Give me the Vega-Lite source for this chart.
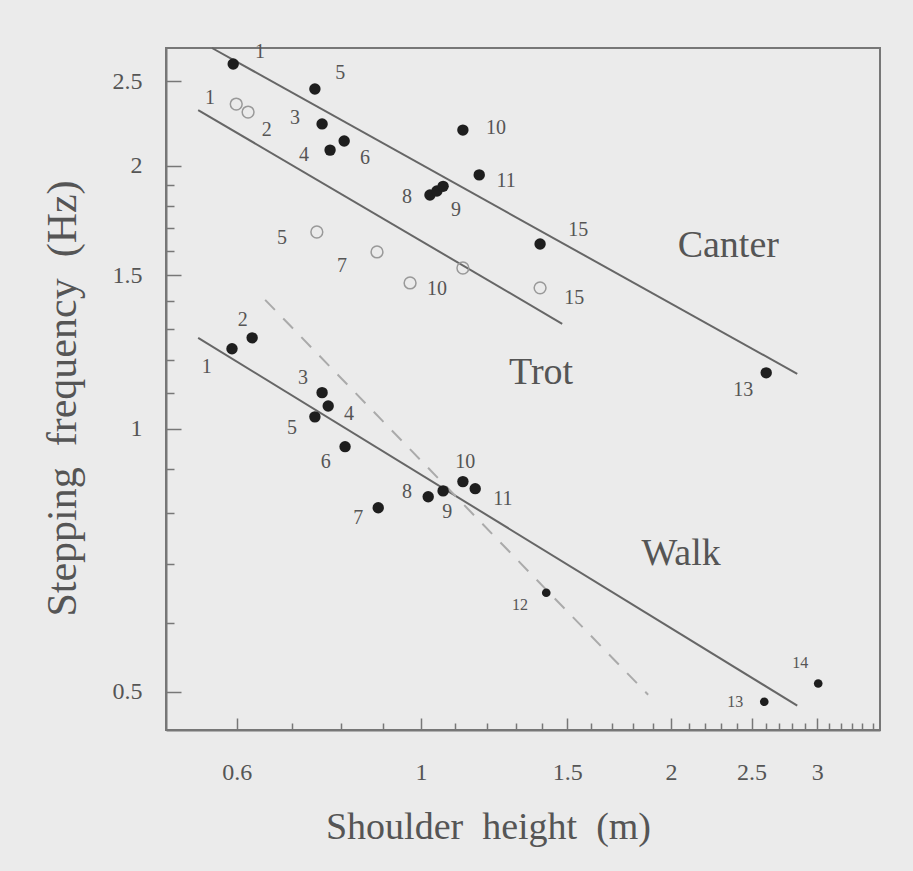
{
  "$schema": "https://vega.github.io/schema/vega-lite/v6.json",
  "autosize": "none",
  "padding": {"left": 166, "top": 48, "right": 33, "bottom": 141},
  "width": 714,
  "height": 682,
  "background": "#ebebeb",
  "config": {
    "view": {"stroke": "#777", "strokeWidth": 2},
    "axis": {
      "labelFont": "Liberation Serif",
      "titleFont": "Liberation Serif",
      "labelColor": "#555",
      "titleColor": "#555",
      "domainColor": "#777",
      "domainWidth": 2,
      "tickColor": "#777",
      "tickWidth": 1.5,
      "grid": false,
      "titleFontWeight": "normal"
    }
  },
  "datasets": {
    "points": [
      {"gait": "Canter", "n": 1, "x": 0.594, "y": 2.616},
      {"gait": "Canter", "n": 5, "x": 0.745, "y": 2.449},
      {"gait": "Canter", "n": 3, "x": 0.760, "y": 2.234},
      {"gait": "Canter", "n": 4, "x": 0.777, "y": 2.085},
      {"gait": "Canter", "n": 6, "x": 0.808, "y": 2.136},
      {"gait": "Canter", "n": 8, "x": 1.025, "y": 1.852},
      {"gait": "Canter", "n": 8, "x": 1.045, "y": 1.872},
      {"gait": "Canter", "n": 9, "x": 1.063, "y": 1.895},
      {"gait": "Canter", "n": 10, "x": 1.123, "y": 2.198},
      {"gait": "Canter", "n": 11, "x": 1.175, "y": 1.953},
      {"gait": "Canter", "n": 15, "x": 1.391, "y": 1.628},
      {"gait": "Canter", "n": 13, "x": 2.604, "y": 1.159},
      {"gait": "Trot", "n": 1, "x": 0.599, "y": 2.354},
      {"gait": "Trot", "n": 2, "x": 0.619, "y": 2.305},
      {"gait": "Trot", "n": 5, "x": 0.749, "y": 1.680},
      {"gait": "Trot", "n": 7, "x": 0.885, "y": 1.594},
      {"gait": "Trot", "n": 10, "x": 0.970, "y": 1.469},
      {"gait": "Trot", "n": 11, "x": 1.123, "y": 1.528},
      {"gait": "Trot", "n": 15, "x": 1.391, "y": 1.450},
      {"gait": "Walk", "n": 1, "x": 0.592, "y": 1.235},
      {"gait": "Walk", "n": 2, "x": 0.626, "y": 1.271},
      {"gait": "Walk", "n": 3, "x": 0.760, "y": 1.100},
      {"gait": "Walk", "n": 4, "x": 0.773, "y": 1.062},
      {"gait": "Walk", "n": 5, "x": 0.745, "y": 1.032},
      {"gait": "Walk", "n": 6, "x": 0.810, "y": 0.954},
      {"gait": "Walk", "n": 7, "x": 0.888, "y": 0.812},
      {"gait": "Walk", "n": 8, "x": 1.020, "y": 0.836},
      {"gait": "Walk", "n": 9, "x": 1.063, "y": 0.849},
      {"gait": "Walk", "n": 10, "x": 1.123, "y": 0.870},
      {"gait": "Walk", "n": 11, "x": 1.162, "y": 0.854},
      {"gait": "Walk", "n": 12, "x": 1.415, "y": 0.649},
      {"gait": "Walk", "n": 13, "x": 2.590, "y": 0.487},
      {"gait": "Walk", "n": 14, "x": 3.008, "y": 0.511}
    ],
    "numbers": [
      {"gait": "Canter", "n": 1, "x": 0.640, "y": 2.700},
      {"gait": "Canter", "n": 5, "x": 0.799, "y": 2.555},
      {"gait": "Canter", "n": 3, "x": 0.705, "y": 2.269},
      {"gait": "Canter", "n": 4, "x": 0.723, "y": 2.058},
      {"gait": "Canter", "n": 6, "x": 0.856, "y": 2.042},
      {"gait": "Canter", "n": 8, "x": 0.962, "y": 1.843},
      {"gait": "Canter", "n": 9, "x": 1.102, "y": 1.781},
      {"gait": "Canter", "n": 10, "x": 1.231, "y": 2.210},
      {"gait": "Canter", "n": 11, "x": 1.266, "y": 1.922},
      {"gait": "Canter", "n": 15, "x": 1.546, "y": 1.689},
      {"gait": "Canter", "n": 13, "x": 2.443, "y": 1.108},
      {"gait": "Trot", "n": 1, "x": 0.557, "y": 2.391},
      {"gait": "Trot", "n": 2, "x": 0.652, "y": 2.198},
      {"gait": "Trot", "n": 5, "x": 0.680, "y": 1.654},
      {"gait": "Trot", "n": 7, "x": 0.803, "y": 1.536},
      {"gait": "Trot", "n": 10, "x": 1.045, "y": 1.446},
      {"gait": "Trot", "n": 15, "x": 1.529, "y": 1.412},
      {"gait": "Walk", "n": 1, "x": 0.552, "y": 1.177},
      {"gait": "Walk", "n": 2, "x": 0.610, "y": 1.332},
      {"gait": "Walk", "n": 3, "x": 0.721, "y": 1.144},
      {"gait": "Walk", "n": 4, "x": 0.819, "y": 1.040},
      {"gait": "Walk", "n": 5, "x": 0.699, "y": 1.003},
      {"gait": "Walk", "n": 6, "x": 0.768, "y": 0.917},
      {"gait": "Walk", "n": 7, "x": 0.840, "y": 0.791},
      {"gait": "Walk", "n": 8, "x": 0.962, "y": 0.847},
      {"gait": "Walk", "n": 9, "x": 1.075, "y": 0.804},
      {"gait": "Walk", "n": 10, "x": 1.130, "y": 0.917},
      {"gait": "Walk", "n": 11, "x": 1.255, "y": 0.832},
      {"gait": "Walk", "n": 12, "x": 1.316, "y": 0.629},
      {"gait": "Walk", "n": 13, "x": 2.389, "y": 0.486},
      {"gait": "Walk", "n": 14, "x": 2.861, "y": 0.540}
    ],
    "fits": [
      {"line": "Canter", "style": "solid", "x": 0.560, "y": 2.729},
      {"line": "Canter", "style": "solid", "x": 2.838, "y": 1.156},
      {"line": "Trot", "style": "solid", "x": 0.539, "y": 2.317},
      {"line": "Trot", "style": "solid", "x": 1.479, "y": 1.319},
      {"line": "Walk", "style": "solid", "x": 0.539, "y": 1.271},
      {"line": "Walk", "style": "solid", "x": 2.838, "y": 0.482},
      {"line": "Walk-trot", "style": "dashed", "x": 0.649, "y": 1.405},
      {"line": "Walk-trot", "style": "dashed", "x": 1.877, "y": 0.496}
    ],
    "gaits": [
      {"name": "Canter", "x": 2.344, "y": 1.620},
      {"name": "Trot", "x": 1.395, "y": 1.159},
      {"name": "Walk", "x": 2.057, "y": 0.718}
    ]
  },
  "layer": [
    {
      "data": {"name": "fits"},
      "transform": [{"filter": "datum.style == 'solid'"}],
      "mark": {"type": "line", "color": "#666", "strokeWidth": 2},
      "encoding": {
        "x": {"field": "x", "type": "quantitative",
          "scale": {"type": "log", "domain": [0.493, 3.57], "nice": false, "zero": false},
          "axis": {
            "title": "Shoulder\u00a0\u00a0height\u00a0\u00a0(m)",
            "titleFontSize": 38,
            "titleX": 322, "titleY": 108, "titleAlign": "center", "titleBaseline": "alphabetic",
            "values": [0.6,0.7,0.8,0.9,1,1.1,1.2,1.3,1.4,1.5,1.6,1.7,1.8,1.9,2,2.1,2.2,2.3,2.4,2.5,2.6,2.7,2.8,2.9,3,3.1,3.2,3.3,3.4,3.5],
            "labelExpr": "indexof([0.6,1,1.5,2,2.5,3], datum.value) >= 0 ? format(datum.value, '~g') : ''",
            "labelFontSize": 24,
            "labelPadding": 42,
            "labelFlush": false,
            "labelOverlap": false,
            "tickSize": {"condition": {"test": "indexof([0.6,1,1.5,2,2.5,3], datum.value) >= 0", "value": -12}, "value": -7}
          }},
        "y": {"field": "y", "type": "quantitative",
          "scale": {"type": "log", "domain": [0.452, 2.729], "nice": false, "zero": false},
          "axis": {
            "title": "Stepping\u00a0\u00a0frequency\u00a0\u00a0(Hz)",
            "titleFontSize": 42,
            "titleX": -104, "titleY": 350, "titleAlign": "center", "titleBaseline": "middle", "titleAngle": -90,
            "values": [0.5,0.6,0.7,0.8,0.9,1,1.1,1.2,1.3,1.4,1.5,1.6,1.7,1.8,1.9,2,2.5],
            "labelExpr": "indexof([0.5,1,1.5,2,2.5], datum.value) >= 0 ? format(datum.value, '~g') : ''",
            "labelFontSize": 24,
            "labelPadding": 39,
            "labelFlush": false,
            "labelOverlap": false,
            "tickSize": {"condition": {"test": "indexof([0.5,1,1.5,2,2.5], datum.value) >= 0", "value": -15}, "value": -8}
          }},
        "detail": {"field": "line"}
      }
    },
    {
      "data": {"name": "fits"},
      "transform": [{"filter": "datum.style == 'dashed'"}],
      "mark": {"type": "line", "color": "#aaa", "strokeWidth": 2, "strokeDash": [14, 12]},
      "encoding": {
        "x": {"field": "x", "type": "quantitative"},
        "y": {"field": "y", "type": "quantitative"},
        "detail": {"field": "line"}
      }
    },
    {
      "data": {"name": "points"},
      "transform": [{"filter": "datum.gait != 'Trot'"}],
      "mark": {"type": "point", "shape": "circle", "filled": true, "color": "#1e1e1e", "opacity": 1},
      "encoding": {
        "x": {"field": "x", "type": "quantitative"},
        "y": {"field": "y", "type": "quantitative"},
        "size": {"condition": {"test": "datum.gait == 'Walk' && datum.n >= 12", "value": 75}, "value": 130}
      }
    },
    {
      "data": {"name": "points"},
      "transform": [{"filter": "datum.gait == 'Trot'"}],
      "mark": {"type": "point", "shape": "circle", "filled": false, "color": "#999", "strokeWidth": 1.5, "size": 140, "opacity": 1},
      "encoding": {
        "x": {"field": "x", "type": "quantitative"},
        "y": {"field": "y", "type": "quantitative"}
      }
    },
    {
      "data": {"name": "numbers"},
      "mark": {"type": "text", "font": "Liberation Serif", "align": "center", "baseline": "middle", "color": "#555"},
      "encoding": {
        "x": {"field": "x", "type": "quantitative"},
        "y": {"field": "y", "type": "quantitative"},
        "text": {"field": "n", "type": "nominal"},
        "size": {"condition": {"test": "datum.gait == 'Walk' && datum.n >= 12", "value": 16}, "value": 20}
      }
    },
    {
      "data": {"name": "gaits"},
      "mark": {"type": "text", "font": "Liberation Serif", "fontSize": 38, "align": "center", "baseline": "middle", "color": "#555"},
      "encoding": {
        "x": {"field": "x", "type": "quantitative"},
        "y": {"field": "y", "type": "quantitative"},
        "text": {"field": "name", "type": "nominal"}
      }
    }
  ]
}
